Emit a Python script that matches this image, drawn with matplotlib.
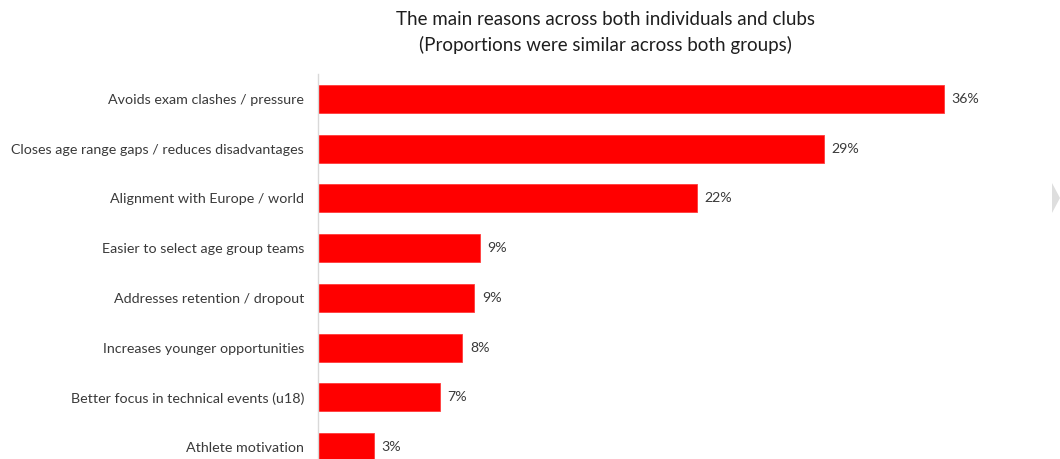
import matplotlib.pyplot as plt
from matplotlib.patches import Polygon

reasons = [
    "Avoids exam clashes / pressure",
    "Closes age range gaps / reduces disadvantages",
    "Alignment with Europe / world",
    "Easier to select age group teams",
    "Addresses retention / dropout",
    "Increases younger opportunities",
    "Better focus in technical events (u18)",
    "Athlete motivation",
]
shares = [36.0, 29.1, 21.8, 9.3, 9.0, 8.3, 7.0, 3.2]

text_col = "#3a3a3a"

fig = plt.figure(figsize=(10.6, 4.59), dpi=100)
ax = fig.add_axes([0.3, -0.0283, 0.656, 0.8671])

ypos = list(range(len(reasons)))
ax.barh(ypos, shares, height=0.56, color="#ff0000", edgecolor="#ff3b3b", linewidth=0.6)

for y, v in zip(ypos, shares):
    ax.text(v + 0.45, y, f"{v:.0f}%", va="center", ha="left",
            fontsize=10.2, color=text_col, family="Lato")

ax.set_ylim(len(reasons) - 0.5, -0.5)
ax.set_xlim(0, 40)
ax.set_yticks(ypos)
ax.set_yticklabels(reasons, fontsize=10.3, color=text_col, family="Lato")
ax.tick_params(axis="y", length=0, pad=10)
ax.set_xticks([])

for side in ["top", "right", "bottom"]:
    ax.spines[side].set_visible(False)
ax.spines["left"].set_color("#d9d9d9")
ax.spines["left"].set_linewidth(1.0)

fig.text(0.571, 0.958, "The main reasons across both individuals and clubs",
         ha="center", va="center", fontsize=13.5, color="#1e1e1e", family="Lato")
fig.text(0.571, 0.903, "(Proportions were similar across both groups)",
         ha="center", va="center", fontsize=13.5, color="#1e1e1e", family="Lato")

# small grey arrow tab on the right edge
tab = Polygon([(1052 / 1060, 1 - 183 / 459), (1060 / 1060, 1 - 198 / 459),
               (1052 / 1060, 1 - 213 / 459)], closed=True,
              transform=fig.transFigure, facecolor="#dedede", edgecolor="none")
fig.patches.append(tab)

fig.savefig("out.png", dpi=100)
